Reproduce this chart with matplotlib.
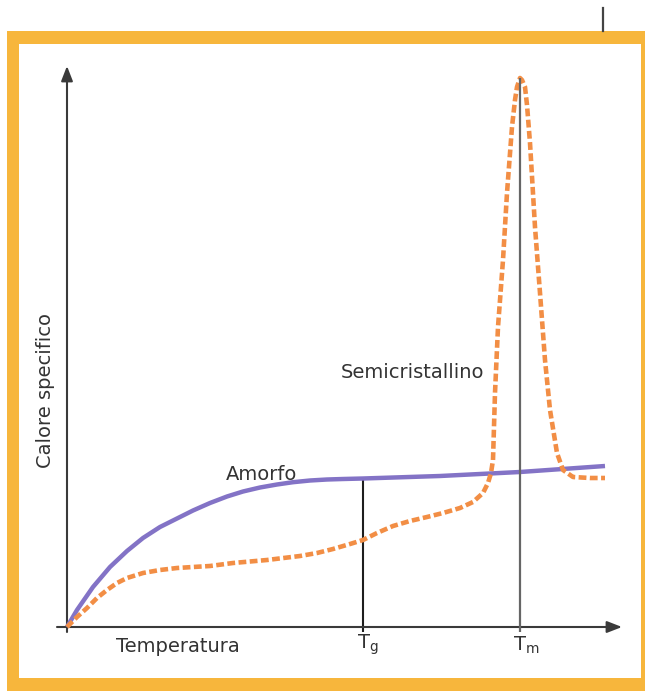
import matplotlib
matplotlib.use("Agg")
import matplotlib.pyplot as plt
from matplotlib.patches import Rectangle
from matplotlib.lines import Line2D

# ---- data (arbitrary units) ----
temp_amorfo = [0, 10, 26, 43, 60, 76, 93, 110, 126, 143, 160, 176, 193, 210,
               226, 243, 260, 276, 296, 373, 453, 538]
cp_amorfo = [0, 17, 40, 60, 76, 89, 100, 108.5, 116.5, 124, 130.5, 135.5,
             139.5, 142.5, 144.8, 146.5, 147.5, 148, 148.5, 151, 155, 161]

temp_semi = [0, 10, 20, 30, 40, 50, 60, 76, 93, 110, 126, 143, 166, 200, 233,
             250, 266, 283, 296, 310, 326, 343, 360, 376, 393, 406, 416, 421,
             424, 426, 428, 431, 436, 440, 445, 448, 450, 453, 455, 458, 460,
             463, 468, 473, 478, 483, 490, 496, 506, 523, 538]
cp_semi = [0, 10, 19, 29, 37, 44, 49, 54, 57, 59, 60, 61, 64, 67, 71,
           74, 78, 83, 87, 94, 101, 106, 110, 114, 119, 125, 134, 144,
           154, 167, 234, 300, 367, 434, 500, 527, 540, 549, 547, 540, 522,
           484, 400, 334, 267, 217, 174, 157, 150, 149, 149]

t_g = 296
t_m = 453
cp_at_tg = 148.5
cp_peak = 549

labels = {"x": "Temperatura", "y": "Calore specifico",
          "amorfo": "Amorfo", "semi": "Semicristallino"}

# ---- figure ----
W, H = 645, 691
fig = plt.figure(figsize=(W / 100, H / 100), dpi=100)
fig.patch.set_facecolor("white")

ax = fig.add_axes([0, 0, 1, 1])
ax.set_xlim(-67, W - 67)
ax.set_ylim(627 - H, 627)
ax.axis("off")

# frame (decoration, figure coordinates)
border = "#F7B63C"
def frect(x0, y0, x1, y1):
    fig.add_artist(Rectangle((x0 / W, 1 - y1 / H), (x1 - x0) / W, (y1 - y0) / H,
                             transform=fig.transFigure, facecolor=border,
                             edgecolor="none", zorder=0))
frect(7, 31, 645, 44)     # top
frect(7, 31, 19, 691)     # left
frect(7, 678, 645, 691)   # bottom
frect(641, 31, 645, 691)  # right
fig.add_artist(Line2D([603 / W, 603 / W], [1 - 8 / H, 1 - 31 / H],
                      transform=fig.transFigure, color="#444444", lw=1.6))

axis_col = "#3a3a3a"
# axes with arrows
ax.annotate("", xy=(0, 561), xytext=(0, -5),
            arrowprops=dict(arrowstyle="-|>,head_length=0.9,head_width=0.35",
                            color=axis_col, lw=1.5, shrinkA=0, shrinkB=0))
ax.annotate("", xy=(555, 0), xytext=(-10, 0),
            arrowprops=dict(arrowstyle="-|>,head_length=0.9,head_width=0.35",
                            color=axis_col, lw=1.5, shrinkA=0, shrinkB=0))

# Tg and Tm markers
ax.vlines(t_g, -5, cp_at_tg, color="#1e1e1e", lw=1.5, zorder=2)
ax.vlines(t_m, -5, cp_peak, color="#666666", lw=1.6, zorder=4)

# curves
ax.plot(temp_amorfo, cp_amorfo, color="#8373C6", lw=3.2,
        solid_capstyle="butt", solid_joinstyle="round", zorder=3)
ax.plot(temp_semi, cp_semi, color="#F28E45", lw=3.3,
        linestyle=(0, (1.7, 0.75)), dash_capstyle="butt",
        dash_joinstyle="round", zorder=3)

txt = "#333333"
fs = 14
ax.text(111, -19, labels["x"], ha="center", va="center", fontsize=fs, color=txt)
ax.text(t_g + 5, -18, r"T$_\mathregular{g}$", ha="center", va="center",
        fontsize=fs, color=txt)
ax.text(t_m + 6, -18, r"T$_\mathregular{m}$", ha="center", va="center",
        fontsize=fs, color=txt)
ax.text(-21, 237, labels["y"], ha="center", va="center", rotation=90,
        fontsize=fs, color=txt)
ax.text(195, 153, labels["amorfo"], ha="center", va="center", fontsize=fs,
        color=txt)
ax.text(346, 255, labels["semi"], ha="center", va="center", fontsize=fs,
        color=txt)

fig.savefig("out.png", dpi=100, facecolor="white")
